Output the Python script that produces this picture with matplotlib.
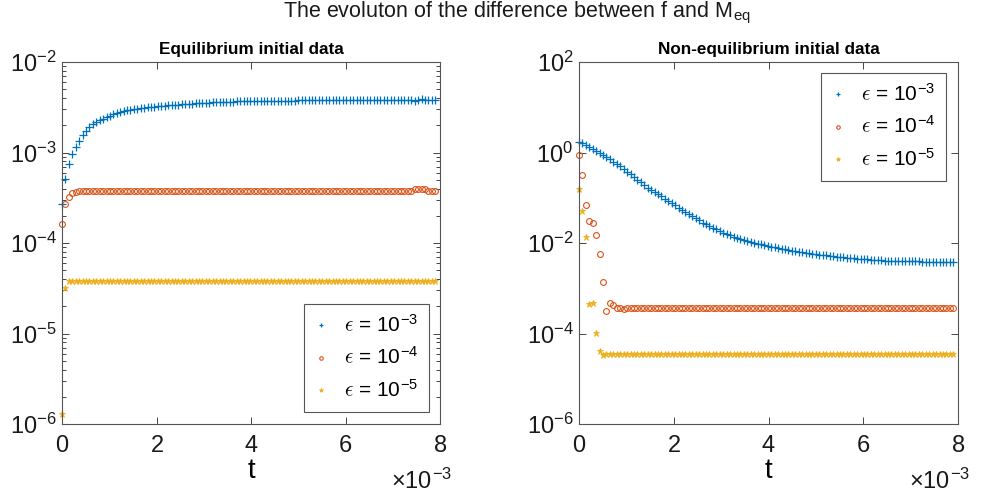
import numpy as np
import matplotlib
matplotlib.use("Agg")
import matplotlib.pyplot as plt
from matplotlib.ticker import LogLocator, NullLocator, FixedLocator

plt.rcParams['font.family'] = ['Liberation Sans', 'DejaVu Sans']
plt.rcParams['mathtext.fontset'] = 'cm'
plt.rcParams['axes.unicode_minus'] = False

# ---------------- data ----------------
n_pts = 110
t = np.linspace(0, 7.9e-3, n_pts)

labels = [r'$\epsilon$ = 10$^{\mathdefault{-3}}$',
          r'$\epsilon$ = 10$^{\mathdefault{-4}}$',
          r'$\epsilon$ = 10$^{\mathdefault{-5}}$']

eq_eps3 = [2.7e-4, 5.1e-4, 7.4e-4, 9.6e-4, 1.15e-3, 1.35e-3, 1.55e-3, 1.74e-3, 1.90e-3, 2.06e-3,
           2.16e-3, 2.26e-3, 2.34e-3, 2.44e-3, 2.54e-3, 2.63e-3, 2.72e-3, 2.80e-3, 2.86e-3, 2.92e-3,
           2.97e-3, 3.02e-3, 3.06e-3, 3.09e-3, 3.12e-3, 3.15e-3, 3.17e-3, 3.20e-3, 3.23e-3, 3.26e-3,
           3.29e-3, 3.32e-3, 3.34e-3, 3.36e-3, 3.38e-3, 3.40e-3, 3.42e-3, 3.44e-3, 3.46e-3, 3.48e-3,
           3.50e-3, 3.52e-3, 3.54e-3, 3.56e-3, 3.58e-3, 3.60e-3, 3.62e-3, 3.63e-3, 3.64e-3, 3.65e-3,
           3.66e-3, 3.67e-3, 3.68e-3, 3.69e-3, 3.70e-3, 3.71e-3, 3.71e-3, 3.72e-3, 3.72e-3, 3.73e-3,
           3.73e-3, 3.73e-3, 3.74e-3, 3.74e-3, 3.74e-3, 3.75e-3, 3.75e-3, 3.75e-3, 3.75e-3, 3.76e-3,
           3.76e-3, 3.76e-3, 3.76e-3, 3.76e-3, 3.77e-3, 3.77e-3, 3.77e-3, 3.77e-3, 3.77e-3, 3.77e-3,
           3.78e-3, 3.78e-3, 3.78e-3, 3.78e-3, 3.78e-3, 3.78e-3, 3.78e-3, 3.78e-3, 3.78e-3, 3.78e-3,
           3.78e-3, 3.78e-3, 3.79e-3, 3.79e-3, 3.79e-3, 3.79e-3, 3.79e-3, 3.79e-3, 3.79e-3, 3.79e-3,
           3.80e-3, 3.80e-3, 3.80e-3, 3.74e-3, 3.80e-3, 3.86e-3, 3.80e-3, 3.80e-3, 3.80e-3, 3.80e-3]

eq_eps4 = ([1.62e-4, 2.7e-4, 3.24e-4, 3.55e-4, 3.7e-4, 3.78e-4]
           + [3.8e-4] * 97
           + [3.95e-4, 4.0e-4, 4.0e-4, 3.95e-4]
           + [3.8e-4] * 3)

eq_eps5 = [1.3e-6, 3.2e-5] + [3.8e-5] * 108

neq_eps3 = [1.75, 1.59, 1.45, 1.32, 1.20, 1.09, 0.99, 0.90, 0.80, 0.71,
            0.63, 0.56, 0.50, 0.44, 0.38, 0.33, 0.29, 0.25, 0.22, 0.19,
            0.168, 0.147, 0.133, 0.120, 0.107, 0.095, 0.085, 0.076, 0.068, 0.060,
            0.054, 0.048, 0.043, 0.039, 0.035, 0.0315, 0.028, 0.026, 0.0236, 0.0218,
            0.020, 0.0182, 0.0170, 0.0158, 0.0148, 0.0138, 0.0129, 0.0123, 0.0117, 0.0110,
            0.0105, 0.0100, 0.0096, 0.0093, 0.0090, 0.0086, 0.0083, 0.0080, 0.0078, 0.0075,
            0.0072, 0.0070, 0.0068, 0.0065, 0.0063, 0.0062, 0.0061, 0.0059, 0.0058, 0.0057,
            0.0055, 0.0054, 0.0053, 0.0052, 0.0051, 0.0050, 0.0049, 0.0048, 0.0047, 0.0046,
            0.00455, 0.0045, 0.00445, 0.0044, 0.00435, 0.0043, 0.00425, 0.0042, 0.00415, 0.0041,
            0.00408, 0.00405, 0.00403, 0.00401, 0.0040, 0.0040, 0.00398, 0.00396, 0.00394, 0.00392,
            0.0039, 0.0039, 0.00388, 0.00386, 0.00384, 0.00383, 0.00382, 0.00381, 0.0038, 0.0038]

neq_eps4 = ([0.86, 0.32, 0.069, 0.031, 0.028, 0.015, 0.0058, 0.00135, 3.2e-4, 4.7e-4,
             4.2e-4, 3.75e-4, 3.6e-4, 3.55e-4, 3.6e-4, 3.65e-4, 3.7e-4]
            + [3.7e-4] * 93)

neq_eps5 = [0.155, 0.051, 0.0135, 4.4e-4, 4.8e-4, 1.02e-4, 4.2e-5, 3.4e-5] + [3.5e-5] * 102

xticks = [0, 2e-3, 4e-3, 6e-3, 8e-3]

# ---------------- style ----------------
colors = ['#0072BD', '#D95319', '#EDB120']
markers = ['+', 'o', '*']
axcol = '#262626'

fig = plt.figure(figsize=(9.86, 4.97), dpi=100)
axL = fig.add_axes([62 / 986, 73 / 497, 378 / 986, 362 / 497])
axR = fig.add_axes([579 / 986, 73 / 497, 379 / 986, 362 / 497])


def style_axis(ax, series, title, ylim, yt, minor):
    for y, c, m, lab in zip(series, colors, markers, labels):
        if m == 'o':
            ax.plot(t, y, linestyle='none', marker=m, ms=4.2, mfc='none', mec=c, mew=0.8,
                    label=lab, clip_on=False)
        elif m == '+':
            ax.plot(t, y, linestyle='none', marker=m, ms=5.8, color=c, mew=0.9,
                    label=lab, clip_on=False)
        else:
            ax.plot(t, y, linestyle='none', marker=m, ms=5.0, color=c, mew=0.6,
                    label=lab, clip_on=False)
    ax.set_yscale('log')
    ax.set_ylim(*ylim)
    ax.set_xlim(0, 8e-3)
    ax.set_xticks(xticks)
    ax.yaxis.set_major_locator(FixedLocator(yt))
    if minor:
        ax.yaxis.set_minor_locator(LogLocator(base=10, subs=np.arange(2, 10)))
    else:
        ax.yaxis.set_minor_locator(NullLocator())
    ax.ticklabel_format(axis='x', style='sci', scilimits=(0, 0), useMathText=True)
    ax.tick_params(which='both', direction='in', top=True, right=True, colors=axcol,
                   labelcolor='#1a1a1a', width=0.6)
    ax.tick_params(which='major', length=5, labelsize=17, pad=4)
    ax.tick_params(axis='x', which='major', pad=8)
    ax.tick_params(which='minor', length=3)
    for s in ax.spines.values():
        s.set_color('#555555')
        s.set_linewidth(0.8)
    ax.set_xlabel('t', fontsize=20, labelpad=1)
    ax.set_title(title, fontsize=12.3, fontweight='bold', pad=6)
    ax.xaxis.get_offset_text().set_visible(False)
    ax.text(1.032, -0.158, '\u00d710$^{\\mathdefault{-3}}$', transform=ax.transAxes,
            ha='right', va='center', fontsize=17, color='#1a1a1a')


style_axis(axL, [eq_eps3, eq_eps4, eq_eps5], 'Equilibrium initial data',
           (1e-6, 1e-2), [1e-6, 1e-5, 1e-4, 1e-3, 1e-2], True)
style_axis(axR, [neq_eps3, neq_eps4, neq_eps5], 'Non-equilibrium initial data',
           (1e-6, 1e2), [1e-6, 1e-4, 1e-2, 1e0, 1e2], False)

legkw = dict(fontsize=15, frameon=True, fancybox=False, framealpha=1, edgecolor='#555555',
             markerscale=0.6, handlelength=0.6, handletextpad=0.8, borderpad=0.5,
             labelspacing=0.5, borderaxespad=0)
lg1 = axL.legend(loc='lower right', bbox_to_anchor=(0.971, 0.033), **legkw)
lg2 = axR.legend(loc='upper right', bbox_to_anchor=(0.968, 0.97), **legkw)
for lg in (lg1, lg2):
    lg.get_frame().set_linewidth(0.8)

fig.text(517 / 986, 1 - 13 / 497, r'The evoluton of the difference between f and M$_{\mathdefault{eq}}$',
         ha='center', va='center', fontsize=15.5, color='#1a1a1a')

fig.savefig('out.png', dpi=100)
